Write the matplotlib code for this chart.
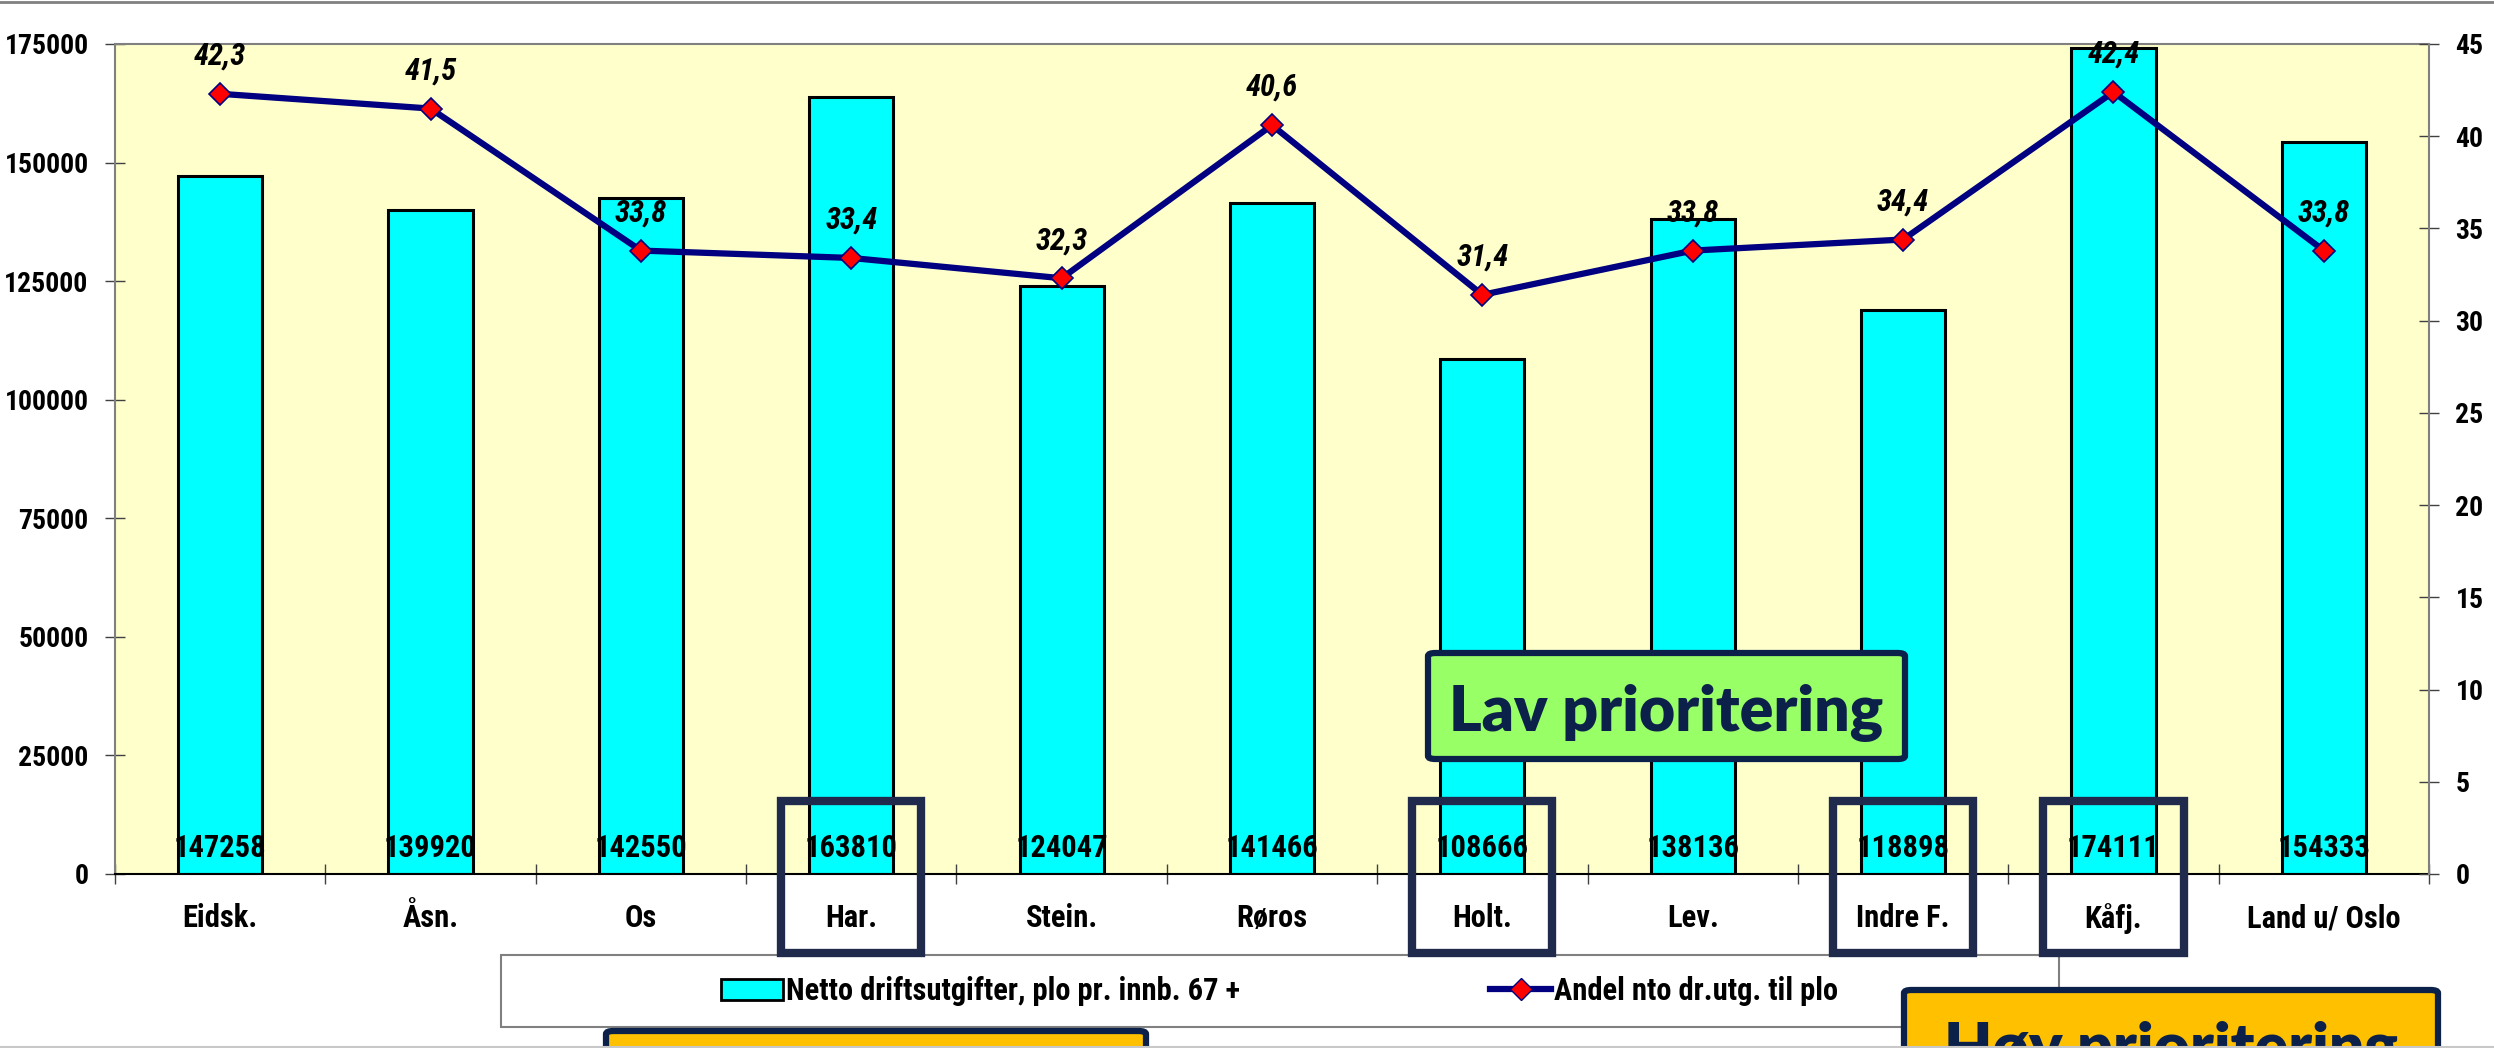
import numpy as np
import matplotlib
matplotlib.use("Agg")
import matplotlib.pyplot as plt
import matplotlib.font_manager as fm
from matplotlib.patches import Rectangle, FancyBboxPatch
from matplotlib.lines import Line2D
from matplotlib.transforms import blended_transform_factory

# Kommunedata: netto driftsutgifter til pleie og omsorg, og andel av totale driftsutgifter
kommuner = ["Eidsk.", "Åsn.", "Os", "Har.", "Stein.", "Røros", "Holt.",
            "Lev.", "Indre F.", "Kåfj.", "Land u/ Oslo"]
netto_utgifter = [147258, 139920, 142550, 163810, 124047, 141466, 108666,
                  138136, 118898, 174111, 154333]
andel_plo = [42.3, 41.5, 33.8, 33.4, 32.3, 40.6, 31.4, 33.8, 34.4, 42.4, 33.8]
markerte = ["Har.", "Holt.", "Indre F.", "Kåfj."]

bar_label = "Netto driftsutgifter, plo pr. innb. 67 +"
line_label = "Andel nto dr.utg. til plo"

W, H = 2494, 1048
NAVY = "#0C2149"

# smal skrift hvis den finnes, ellers vanlig Liberation Sans i litt mindre grad
installed = {f.name for f in fm.fontManager.ttflist}
narrow = [n for n in ["Liberation Sans Narrow", "Arial Narrow",
                      "Nimbus Sans Narrow", "Roboto Condensed"] if n in installed]
if narrow:
    FONT = [narrow[0], "DejaVu Sans"]
    SCALE = 1.0
else:
    FONT = ["Liberation Sans", "DejaVu Sans"]
    SCALE = 0.84


def fs(size):
    return size * SCALE


def px(x0, y0, x1, y1):
    """Pixel box (from top-left) -> figure fraction (left, bottom, width, height)."""
    return x0 / W, 1 - y1 / H, (x1 - x0) / W, (y1 - y0) / H


fig = plt.figure(figsize=(W / 100, H / 100), dpi=100)
fig.patch.set_facecolor("white")

ax = fig.add_axes(px(115, 44, 2429, 874))
ax.set_facecolor("#FFFFCC")

xs = np.arange(len(kommuner)) + 0.5
ax.bar(xs, netto_utgifter, width=0.4, color="#00FFFF", edgecolor="black",
       linewidth=2.2, zorder=2)
ax.set_xlim(0, len(kommuner))
ax.set_ylim(0, 175000)
ax.set_yticks(np.arange(0, 175001, 25000))

for xi, v in zip(xs, netto_utgifter):
    ax.annotate(str(v), (xi, 0), xytext=(0, 12), textcoords="offset points",
                ha="center", va="baseline", fontsize=fs(22), fontweight="bold",
                family=FONT, zorder=3)

ax.set_xticks(xs)
ax.set_xticklabels(kommuner, fontsize=fs(22), fontweight="bold", family=FONT)
ax.set_xticks(np.arange(len(kommuner) + 1), minor=True)
ax.tick_params(axis="x", which="major", length=0, pad=21)
ax.tick_params(axis="x", which="minor", direction="inout", length=14,
               width=1, color="#404040")
ax.tick_params(axis="y", direction="inout", length=14, width=1,
               color="#404040", pad=12)
for lab in ax.get_yticklabels():
    lab.set_fontsize(fs(20))
    lab.set_fontweight("bold")
    lab.set_family(FONT)

for side in ["left", "top"]:
    ax.spines[side].set_color("#808080")
    ax.spines[side].set_linewidth(1.5)
ax.spines["bottom"].set_color("black")
ax.spines["bottom"].set_linewidth(1.5)
ax.spines["right"].set_visible(False)

# andel på høyre akse
ax2 = ax.twinx()
ax2.plot(xs, andel_plo, color="#000080", linewidth=4.5, marker="D",
         markersize=11, markerfacecolor="red", markeredgecolor="#000080",
         markeredgewidth=1.2, zorder=3)
ax2.set_ylim(0, 45)
ax2.set_yticks(np.arange(0, 46, 5))
ax2.tick_params(axis="y", direction="inout", length=14, width=1,
                color="#404040", pad=12)
for lab in ax2.get_yticklabels():
    lab.set_fontsize(fs(20))
    lab.set_fontweight("bold")
    lab.set_family(FONT)
for side in ["left", "top", "bottom"]:
    ax2.spines[side].set_visible(False)
ax2.spines["right"].set_color("#808080")
ax2.spines["right"].set_linewidth(1.5)

for xi, v in zip(xs, andel_plo):
    ax2.annotate(f"{v:.1f}".replace(".", ","), (xi, v), xytext=(0, 21),
                 textcoords="offset points", ha="center", va="baseline",
                 fontsize=fs(22), fontweight="bold", fontstyle="italic",
                 family=FONT, zorder=4)

# legendeboks under diagrammet
lx, ly, lw, lh = px(501, 955, 2059, 1027)
fig.add_artist(Rectangle((lx, ly), lw, lh, transform=fig.transFigure,
                         facecolor="white", edgecolor="#808080", linewidth=1.5,
                         zorder=1))
handles = [Rectangle((0, 0), 1, 1, facecolor="#00FFFF", edgecolor="black",
                     linewidth=2),
           Line2D([], [], color="#000080", linewidth=4.5, marker="D",
                  markersize=11, markerfacecolor="red",
                  markeredgecolor="#000080")]
leg = fig.legend(handles, [bar_label, line_label], loc="center",
                 bbox_to_anchor=(lx + lw / 2, ly + lh / 2), ncol=2,
                 frameon=False, handlelength=2.0 / SCALE, handletextpad=0.1,
                 columnspacing=8.2 if narrow else 4.5,
                 prop={"family": FONT, "weight": "bold", "size": fs(22)})
leg.set_zorder(2)

# rammer rundt utvalgte kommuner
trans = blended_transform_factory(ax.transData, fig.transFigure)
for navn in markerte:
    i = kommuner.index(navn)
    fig.add_artist(Rectangle((i + 0.5 - 0.333, 1 - 953 / H), 0.666,
                             (953 - 801) / H, transform=trans, fill=False,
                             edgecolor="#1F2A4C", linewidth=6, zorder=5))


def callout(x0, y0, x1, y1, face, text=None):
    bx, by, bw, bh = px(x0, y0, x1, y1)
    fig.add_artist(FancyBboxPatch((bx, by), bw, bh, transform=fig.transFigure,
                                  boxstyle="round,pad=0,rounding_size=0.003",
                                  facecolor=face, edgecolor=NAVY,
                                  linewidth=4.5, zorder=6))
    if text:
        fig.text(bx + bw / 2, 1 - (y0 + 78) / H, text, ha="center",
                 va="baseline", fontsize=45, fontweight="heavy",
                 family=["Lato", "DejaVu Sans"], color=NAVY, zorder=7)


callout(1428, 653, 1905, 759, "#99FF66", "Lav prioritering")
callout(1904, 990, 2438, 1097, "#FFC000", "Høy prioritering")
callout(606, 1031, 1146, 1138, "#FFC000")

# tynne kantlinjer øverst og nederst
fig.add_artist(Line2D([0, 1], [1 - 1.5 / H, 1 - 1.5 / H], color="#808080",
                      linewidth=2, transform=fig.transFigure))
fig.add_artist(Line2D([0, 1], [1 / H, 1 / H], color="#C8C8C8",
                      linewidth=1.5, transform=fig.transFigure, zorder=8))

fig.savefig("out.png", dpi=100)
